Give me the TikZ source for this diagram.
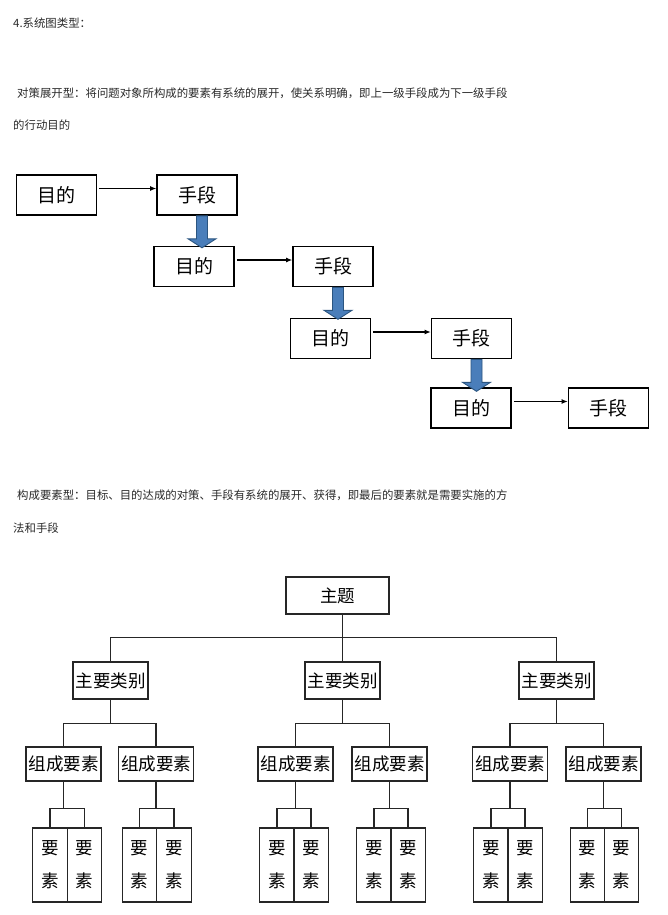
\documentclass[tikz,border=0pt]{standalone}
\usepackage{fontspec}
\setmainfont{Noto Sans CJK SC}
\usetikzlibrary{arrows.meta}
\definecolor{txt}{HTML}{2A2A2A}
\definecolor{arrfill}{HTML}{4A7EBA}
\definecolor{arrdraw}{HTML}{2B5580}
\tikzset{
	para/.style={anchor=west, inner sep=0pt, text=txt, font=\fontsize{11.4}{14}\selectfont},
	box/.style={draw, line width=1.6pt, minimum width=80pt, minimum height=40pt, inner sep=0pt, font=\fontsize{19}{19}\selectfont},
	goal/.style={-{Latex[length=6pt,width=5pt]}, line width=1.1pt, shorten <=2pt},
	bluearrow/.style={fill=arrfill, draw=arrdraw, line width=0.9pt, line join=miter},
	tbox/.style={draw=black!85, line width=1.3pt, inner sep=0pt, font=\fontsize{17.5}{17.5}\selectfont},
	tline/.style={draw=black!85, line width=1.3pt}
}
\begin{document}
\begin{tikzpicture}[x=1pt,y=-1pt]
	\useasboundingbox[fill=white] (0,0) rectangle (668,915);
	\node[para] (t1) at (13,23) {4.系统图类型：};
	\node[para] (t2) at (17,93) {对策展开型：将问题对象所构成的要素有系统的展开，使关系明确，即上一级手段成为下一级手段};
	\node[para] (t3) at (13,125) {的行动目的};
	\node[para] (t4) at (17,495) {构成要素型：目标、目的达成的对策、手段有系统的展开、获得，即最后的要素就是需要实施的方};
	\node[para] (t5) at (13,528) {法和手段};
	\foreach \n/\x/\y/\t in {m1/56.5/195/目的, s1/197/195/手段, m2/194/266.5/目的, s2/333/266.5/手段,
			m3/330.5/338.5/目的, s3/471.5/338.5/手段, m4/471/408/目的, s4/608.5/408/手段}
		\node[box] (\n) at (\x,\y) {\t};
	\foreach \a/\b in {m1/s1,m2/s2,m3/s3,m4/s4}
		\draw[goal] ([yshift=6.5pt]\a.east) -- ([yshift=6.5pt]\b.west);
	\foreach \a in {s1,s2,s3}
		\draw[bluearrow] (\a.south) ++(-0.5,0) -- ++(0,23) -- ++(-8.5,0) -- ++(14,9) -- ++(14,-9) -- ++(-8.5,0) -- ++(0,-23) -- cycle;
	\node[tbox, minimum width=103pt, minimum height=37pt] (theme) at (337.5,595.5) {主题};
	\foreach \n/\x in {c1/110.5, c2/342.5, c3/556.5}
		\node[tbox, minimum width=75pt, minimum height=37pt] (\n) at (\x,680.5) {主要类别};
	\foreach \n/\x in {k1/63.5, k2/156, k3/295.5, k4/389.5, k5/510, k6/603.5}
		\node[tbox, minimum width=75pt, minimum height=34pt] (\n) at (\x,764) {组成要素};
	\foreach \n/\x in {e1/50, e2/84.5, e3/139.5, e4/174, e5/277, e6/311, e7/374, e8/408, e9/491, e10/525, e11/587.5, e12/621.5}
		\node[tbox, minimum width=34.5pt, minimum height=74pt, align=center, font=\fontsize{17.5}{33}\selectfont] (\n) at (\x,865) {要\\素};
	\draw[tline] (theme.south -| c2.north) -- (c2.north);
	\draw[tline] (c1.north) |- ([yshift=24pt]c2.north) -| (c3.north);
	\foreach \c/\l/\r in {c1/k1/k2, c2/k3/k4, c3/k5/k6} {
		\draw[tline] (\c.south) -- ++(0,24);
		\draw[tline] (\l.north) |- ([yshift=-24pt]\c.south) -| (\r.north);
	}
	\foreach \k/\l/\r in {k1/e1/e2, k2/e3/e4, k3/e5/e6, k4/e7/e8, k5/e9/e10, k6/e11/e12} {
		\draw[tline] (\k.south) -- ++(0,27);
		\draw[tline] (\l.north) |- ([yshift=-27pt]\k.south) -| (\r.north);
	}
\end{tikzpicture}
\end{document}
